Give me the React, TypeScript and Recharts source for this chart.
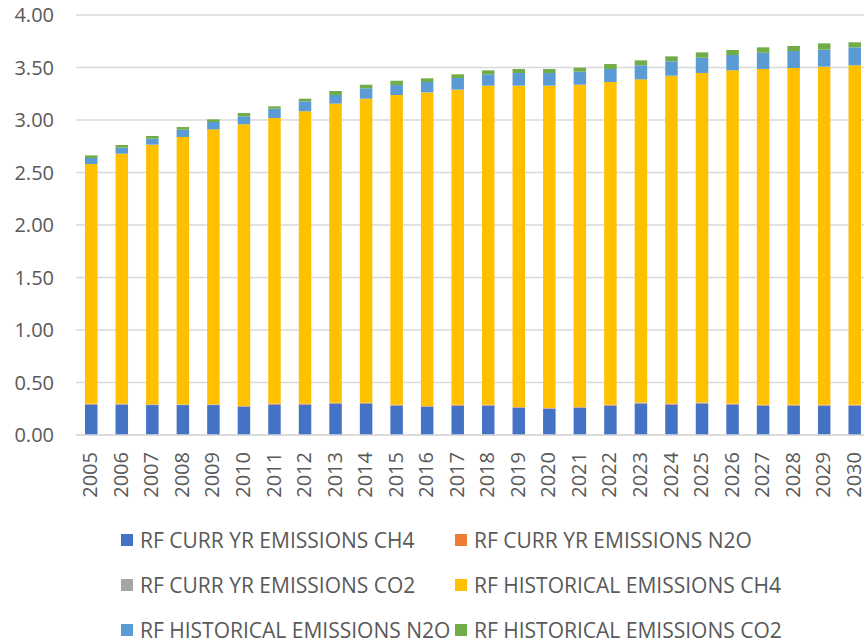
import { BarChart, Bar, XAxis, YAxis, CartesianGrid, Legend } from 'recharts'

const years = [
  '2005', '2006', '2007', '2008', '2009', '2010', '2011', '2012', '2013',
  '2014', '2015', '2016', '2017', '2018', '2019', '2020', '2021', '2022',
  '2023', '2024', '2025', '2026', '2027', '2028', '2029', '2030',
]

const currCH4 = [
  0.29, 0.29, 0.285, 0.285, 0.285, 0.27, 0.29, 0.29, 0.30, 0.30, 0.28, 0.27, 0.28,
  0.28, 0.26, 0.25, 0.26, 0.28, 0.30, 0.29, 0.30, 0.29, 0.28, 0.28, 0.28, 0.28,
]
const currN2O = [
  0.004, 0.003, 0.004, 0.004, 0.004, 0.004, 0.008, 0.008, 0.004, 0.004, 0.004, 0.004, 0.006,
  0.005, 0.004, 0.004, 0.004, 0.006, 0.004, 0.008, 0.004, 0.004, 0.005, 0.005, 0.005, 0.005,
]
const currCO2 = [
  0.003, 0.005, 0.003, 0.003, 0.003, 0.003, 0.002, 0.002, 0.003, 0.003, 0.004, 0.003, 0.002,
  0.003, 0.003, 0.003, 0.003, 0.002, 0.005, 0.002, 0.005, 0.003, 0.002, 0.002, 0.002, 0.002,
]
const histCH4 = [
  2.284, 2.381, 2.473, 2.546, 2.619, 2.682, 2.719, 2.783, 2.849, 2.896, 2.950, 2.986, 3.001,
  3.039, 3.060, 3.070, 3.069, 3.074, 3.078, 3.122, 3.139, 3.176, 3.199, 3.208, 3.221, 3.234,
]
const histN2O = [
  0.057, 0.057, 0.057, 0.070, 0.070, 0.076, 0.089, 0.095, 0.082, 0.099, 0.095, 0.099, 0.111,
  0.108, 0.121, 0.121, 0.124, 0.124, 0.134, 0.137, 0.145, 0.146, 0.155, 0.162, 0.162, 0.171,
]
const histCO2 = [
  0.025, 0.026, 0.026, 0.025, 0.025, 0.032, 0.022, 0.025, 0.038, 0.034, 0.041, 0.035, 0.035,
  0.038, 0.038, 0.038, 0.038, 0.047, 0.047, 0.047, 0.051, 0.048, 0.051, 0.048, 0.060, 0.048,
]

const yTicks = [0, 0.5, 1, 1.5, 2, 2.5, 3, 3.5, 4]

const series = [
  { key: 'currCH4', name: 'RF CURR YR EMISSIONS CH4', color: '#4472C4' },
  { key: 'currN2O', name: 'RF CURR YR EMISSIONS N2O', color: '#ED7D31' },
  { key: 'currCO2', name: 'RF CURR YR EMISSIONS CO2', color: '#A5A5A5' },
  { key: 'histCH4', name: 'RF HISTORICAL EMISSIONS CH4', color: '#FFC000' },
  { key: 'histN2O', name: 'RF HISTORICAL EMISSIONS N2O', color: '#5B9BD5' },
  { key: 'histCO2', name: 'RF HISTORICAL EMISSIONS CO2', color: '#70AD47' },
]

const data = years.map((year, i) => ({
  year,
  currCH4: currCH4[i],
  currN2O: currN2O[i],
  currCO2: currCO2[i],
  histCH4: histCH4[i],
  histN2O: histN2O[i],
  histCO2: histCO2[i],
}))

const FONT = '"Open Sans", "Liberation Sans", sans-serif'
const TEXT = '#595959'

const YearTick = (props: any) => {
  const { x, y, payload } = props
  return (
    <g transform={`translate(${x},${y + 17}) rotate(-90)`}>
      <text textAnchor="end" dy="0.3em" fontSize={20} fontFamily={FONT} fill={TEXT}>
        {payload.value}
      </text>
    </g>
  )
}

// two columns, three rows, like the spreadsheet legend
const LegendBox = () => (
  <div style={{ position: 'relative', height: 123, fontFamily: FONT, fontSize: 21, color: TEXT }}>
    {series.map((s, i) => {
      const col = i % 2
      const row = Math.floor(i / 2)
      return (
        <div
          key={s.key}
          style={{
            position: 'absolute',
            left: col === 0 ? 121 : 455,
            top: 20 + row * 45 - 14,
            height: 28,
            display: 'flex',
            alignItems: 'center',
            whiteSpace: 'nowrap',
          }}
        >
          <span style={{ width: 12, height: 12, background: s.color, marginRight: 7, display: 'inline-block' }} />
          <span>{s.name}</span>
        </div>
      )
    })}
  </div>
)

export default function App() {
  return (
    <div style={{ position: 'fixed', left: 0, top: 0, width: 864, height: 643, overflow: 'hidden', background: '#fff' }}>
      <BarChart
        width={880}
        height={643}
        data={data}
        margin={{ top: 15, right: 10, bottom: 0, left: 0 }}
        barSize={12.5}
      >
        <CartesianGrid vertical={false} stroke="#d9d9d9" strokeWidth={1.3} />
        <XAxis
          dataKey="year"
          interval={0}
          height={85}
          tickLine={false}
          tickSize={0}
          tickMargin={0}
          axisLine={{ stroke: '#d9d9d9', strokeWidth: 1.3 }}
          tick={<YearTick />}
        />
        <YAxis
          width={76}
          domain={[0, 4]}
          ticks={yTicks}
          tickFormatter={(v: number) => v.toFixed(2)}
          tickLine={false}
          axisLine={false}
          tickMargin={16}
          tick={{ fontSize: 20, fontFamily: FONT, fill: TEXT }}
        />
        <Legend verticalAlign="bottom" content={<LegendBox />} />
        {series.map((s) => (
          <Bar
            key={s.key}
            dataKey={s.key}
            name={s.name}
            stackId="rf"
            fill={s.color}
            isAnimationActive={false}
          />
        ))}
      </BarChart>
    </div>
  )
}
